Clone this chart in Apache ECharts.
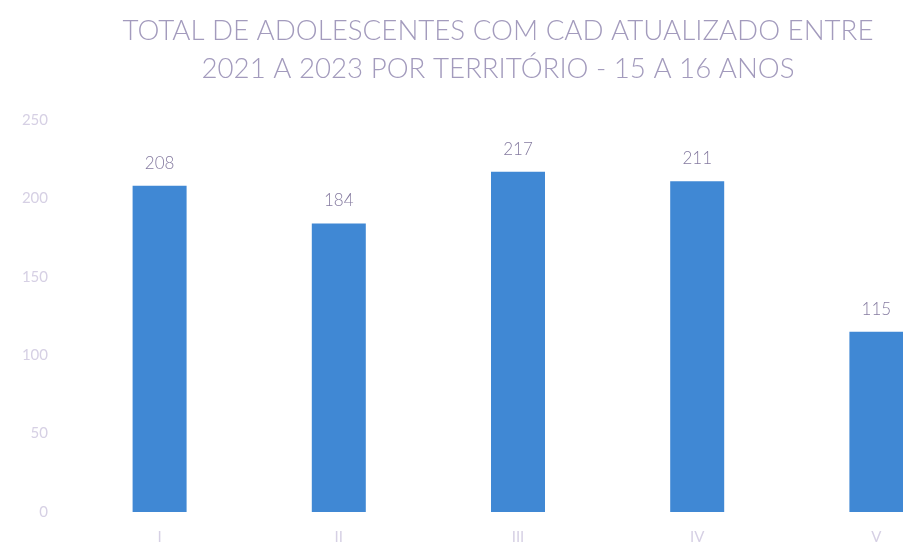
<!DOCTYPE html>
<html>
<head>
<meta charset="utf-8">
<script src="https://cdn.jsdelivr.net/npm/echarts@6/dist/echarts.min.js"></script>
<style>
  html,body{margin:0;padding:0;background:#fff;overflow:hidden;}
  #chart{width:966px;height:548px;}
</style>
</head>
<body>
<div id="chart"></div>
<script>
// territórios e totais
const territorios = ['I', 'II', 'III', 'IV', 'V'];
const totais = [208, 184, 217, 211, 115];
const yTicks = [0, 50, 100, 150, 200, 250];

const FONT = 'Lato, "Open Sans", sans-serif';

// o gráfico original é cortado na direita: a área de plotagem passa da janela
const ch = echarts.init(document.getElementById('chart'), null, {renderer: 'canvas'});
ch.setOption({
  animation: false,
  textStyle: {fontFamily: FONT},
  title: {
    text: 'TOTAL DE ADOLESCENTES COM CAD ATUALIZADO ENTRE\n2021 A 2023 POR TERRITÓRIO - 15 A 16 ANOS',
    left: 493, top: 7, textAlign: 'center',
    textStyle: {color: '#a39bbd', fontSize: 27.7, fontWeight: 300, lineHeight: 38, fontFamily: FONT}
  },
  grid: {left: 70, right: 0, top: 120, bottom: 36},
  xAxis: {
    type: 'category', data: territorios,
    axisLine: {show: false}, axisTick: {show: false},
    axisLabel: {color: '#d6d0e4', fontSize: 15, margin: 18}
  },
  yAxis: {
    type: 'value', min: yTicks[0], max: yTicks[yTicks.length - 1], interval: 50,
    axisLine: {show: false}, axisTick: {show: false}, splitLine: {show: false},
    axisLabel: {color: '#d6d0e4', fontSize: 15, margin: 22}
  },
  series: [{
    type: 'bar', data: totais, barWidth: 54,
    itemStyle: {color: '#4088d4'},
    label: {show: true, position: 'top', distance: 14, color: '#857ba0', fontSize: 17, fontWeight: 300}
  }]
});
</script>
</body>
</html>
